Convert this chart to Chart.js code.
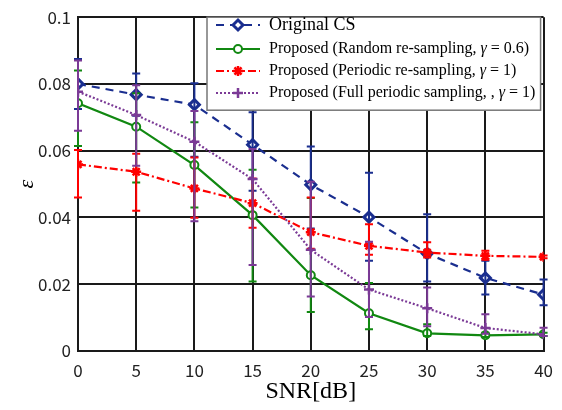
<!DOCTYPE html>
<html>
<head>
<meta charset="utf-8">
<script src="https://cdn.jsdelivr.net/npm/chart.js@4"></script>
<style>
  html, body { margin: 0; padding: 0; background: #fff; }
  #wrap { width: 562px; height: 410px; }
</style>
</head>
<body>
<div id="wrap"><canvas id="chart" width="562" height="410"></canvas></div>
<script>
// SNR values (x axis)
const snr = [0, 5, 10, 15, 20, 25, 30, 35, 40];

// Original CS
const origCS   = [0.0800, 0.0768, 0.0738, 0.0618, 0.0498, 0.0401, 0.0292, 0.0219, 0.0169];
const origCSLo = [0.0725, 0.0705, 0.0582, 0.0480, 0.0367, 0.0270, 0.0208, 0.0169, 0.0137];
const origCSHi = [0.0875, 0.0831, 0.0802, 0.0715, 0.0613, 0.0534, 0.0410, 0.0270, 0.0214];

// Proposed, random re-sampling
const randRs   = [0.0742, 0.0672, 0.0557, 0.0407, 0.0227, 0.0113, 0.0053, 0.0047, 0.0050];
const randRsLo = [0.0614, 0.0505, 0.0430, 0.0208, 0.0117, 0.0065, 0.0045, 0.0042, 0.0045];
const randRsHi = [0.0840, 0.0772, 0.0685, 0.0543, 0.0458, 0.0204, 0.0080, 0.0055, 0.0055];

// Proposed, periodic re-sampling
const perRs   = [0.0559, 0.0537, 0.0487, 0.0443, 0.0356, 0.0315, 0.0295, 0.0285, 0.0282];
const perRsLo = [0.0460, 0.0420, 0.0399, 0.0369, 0.0306, 0.0288, 0.0280, 0.0273, 0.0278];
const perRsHi = [0.0602, 0.0591, 0.0580, 0.0517, 0.0460, 0.0380, 0.0326, 0.0300, 0.0286];

// Proposed, full periodic sampling
const fullPer   = [0.0777, 0.0707, 0.0627, 0.0515, 0.0303, 0.0184, 0.0128, 0.0069, 0.0050];
const fullPerLo = [0.0660, 0.0555, 0.0389, 0.0258, 0.0163, 0.0102, 0.0074, 0.0052, 0.0045];
const fullPerHi = [0.0870, 0.0796, 0.0719, 0.0605, 0.0507, 0.0327, 0.0190, 0.0110, 0.0070];

const labels = [
  "Original CS",
  "Proposed (Random re-sampling, γ = 0.6)",
  "Proposed (Periodic re-sampling, γ = 1)",
  "Proposed (Full periodic sampling, , γ = 1)"
];

const blue = "#1a2e8f";
const green = "#118811";
const red = "#ff0000";
const purple = "#7b3a96";

function pts(ys) {
  return snr.map((x, i) => ({ x: x, y: ys[i] }));
}

// error bars, drawn through the chart's own scales
const errorBarPlugin = {
  id: "errorBars",
  afterDatasetDraw(chart, args) {
    const ds = chart.data.datasets[args.index];
    if (!ds.lo) return;
    const xs = chart.scales.x, ys = chart.scales.y;
    const ctx = chart.ctx;
    ctx.save();
    ctx.strokeStyle = ds.borderColor;
    ctx.lineWidth = 2;
    ctx.setLineDash([]);
    snr.forEach((x, i) => {
      const px = xs.getPixelForValue(x);
      const top = ys.getPixelForValue(ds.hi[i]);
      const bot = ys.getPixelForValue(ds.lo[i]);
      ctx.beginPath();
      ctx.moveTo(px, top); ctx.lineTo(px, bot);
      ctx.moveTo(px - 4, top); ctx.lineTo(px + 4, top);
      ctx.moveTo(px - 4, bot); ctx.lineTo(px + 4, bot);
      ctx.stroke();
    });
    ctx.restore();
  }
};

// legend box inside the plot, top right
const legendPlugin = {
  id: "boxLegend",
  afterDraw(chart) {
    const ctx = chart.ctx;
    const area = chart.chartArea;
    const bx = 207, by = area.top, bw = area.right - 3 - bx, bh = 93;
    ctx.save();
    ctx.fillStyle = "#fff";
    ctx.fillRect(bx, by, bw, bh);
    ctx.strokeStyle = "#777";
    ctx.lineWidth = 1.5;
    ctx.strokeRect(bx, by, bw, bh);
    const rows = [25, 49, 71, 93];
    chart.data.datasets.forEach((ds, i) => {
      const y = rows[i];
      ctx.strokeStyle = ds.borderColor;
      ctx.lineWidth = ds.borderWidth;
      ctx.setLineDash(ds.borderDash || []);
      ctx.beginPath();
      ctx.moveTo(216, y); ctx.lineTo(260, y);
      ctx.stroke();
      ctx.setLineDash([]);
      ctx.fillStyle = ds.pointBackgroundColor || ds.borderColor;
      ctx.lineWidth = ds.pointBorderWidth;
      Chart.helpers.drawPoint(ctx, {
        pointStyle: ds.pointStyle, radius: ds.pointRadius, borderWidth: ds.pointBorderWidth
      }, 238, y);
      // text, with gamma in italic
      ctx.fillStyle = "#000";
      ctx.textBaseline = "middle";
      const size = i === 0 ? 18 : 16;
      const parts = ds.label.split("γ");
      let tx = 269;
      ctx.font = size + "px 'Liberation Serif', serif";
      ctx.fillText(parts[0], tx, y);
      if (parts.length > 1) {
        tx += ctx.measureText(parts[0]).width;
        ctx.font = "italic " + size + "px 'Liberation Serif', serif";
        ctx.fillText("γ", tx, y);
        tx += ctx.measureText("γ").width;
        ctx.font = size + "px 'Liberation Serif', serif";
        ctx.fillText(parts[1], tx, y);
      }
    });
    ctx.restore();
  }
};

const ctx = document.getElementById("chart").getContext("2d");
new Chart(ctx, {
  type: "line",
  data: {
    datasets: [
      {
        label: labels[0], data: pts(origCS), lo: origCSLo, hi: origCSHi,
        borderColor: blue, backgroundColor: "#fff", borderWidth: 2.2, borderDash: [8, 6],
        pointStyle: "rectRot", pointRadius: 5, pointBorderWidth: 3,
        pointBackgroundColor: "#fff", pointBorderColor: blue, order: 4
      },
      {
        label: labels[1], data: pts(randRs), lo: randRsLo, hi: randRsHi,
        borderColor: green, backgroundColor: "#fff", borderWidth: 2.2,
        pointStyle: "circle", pointRadius: 4, pointBorderWidth: 2,
        pointBackgroundColor: "#fff", pointBorderColor: green, order: 3
      },
      {
        label: labels[2], data: pts(perRs), lo: perRsLo, hi: perRsHi,
        borderColor: red, backgroundColor: red, borderWidth: 2.2, borderDash: [8, 3, 2, 3],
        pointStyle: "star", pointRadius: 5, pointBorderWidth: 2.5,
        pointBorderColor: red, order: 2
      },
      {
        label: labels[3], data: pts(fullPer), lo: fullPerLo, hi: fullPerHi,
        borderColor: purple, backgroundColor: purple, borderWidth: 2.2, borderDash: [2, 2],
        pointStyle: "cross", pointRadius: 5, pointBorderWidth: 2.5,
        pointBorderColor: purple, order: 1
      }
    ]
  },
  options: {
    responsive: false,
    animation: false,
    layout: { padding: { top: 14, right: 17, left: 0, bottom: 0 } },
    plugins: {
      legend: { display: false },
      tooltip: { enabled: false }
    },
    scales: {
      x: {
        type: "linear", min: 0, max: 40,
        afterFit: (s) => { s.height = 59; },
        ticks: {
          stepSize: 5, color: "#222", padding: 9,
          font: { family: "'Noto Sans CJK JP', sans-serif", size: 17 }
        },
        grid: { color: "#1a1a1a", lineWidth: 2, drawTicks: false },
        border: { color: "#1a1a1a", width: 2 },
        title: {
          display: true, text: "SNR[dB]", color: "#000",
          font: { family: "'Liberation Serif', serif", size: 24 },
          padding: { top: 0, bottom: 4 }
        }
      },
      y: {
        type: "linear", min: 0, max: 0.1,
        afterFit: (s) => { s.width = 78; },
        ticks: {
          stepSize: 0.02, color: "#222", padding: 7,
          font: { family: "'Noto Sans CJK JP', sans-serif", size: 17 },
          callback: (v) => String(+v.toFixed(2))
        },
        grid: { color: "#1a1a1a", lineWidth: 2, drawTicks: false },
        border: { color: "#1a1a1a", width: 2 },
        title: {
          display: true, text: "ε", color: "#000",
          font: { family: "'Liberation Serif', serif", size: 22, style: "italic" },
          padding: { top: 14, bottom: 0 }
        }
      }
    }
  },
  plugins: [errorBarPlugin, legendPlugin]
});
</script>
</body>
</html>
